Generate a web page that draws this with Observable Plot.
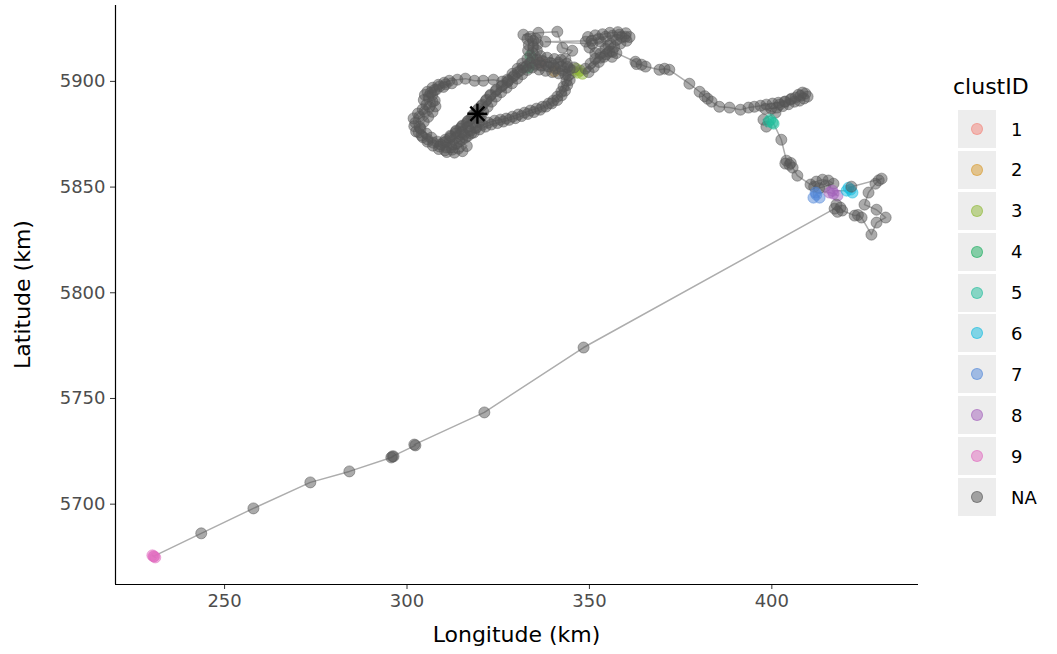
<!DOCTYPE html>
<html>
<head>
<meta charset="utf-8">
<script src="https://cdn.jsdelivr.net/npm/d3@7"></script>
<script src="https://cdn.jsdelivr.net/npm/@observablehq/plot@0.6"></script>
<style>
  html, body { margin: 0; padding: 0; background: #fff; }
  #wrap { position: relative; width: 1057px; height: 654px; font-family: "DejaVu Sans", sans-serif; }
  #legend { position: absolute; left: 953px; top: 72px; }
  #legend .title { font-size: 22px; color: #000; height: 38px; line-height: 30px; }
  #legend .item { display: flex; align-items: center; height: 38px; margin-bottom: 2.9px; margin-left: 5px; }
  #legend .key { width: 38px; height: 38px; background: #EDEDED; display: flex; align-items: center; justify-content: center; }
  #legend .dot { width: 10px; height: 10px; border-radius: 50%; border: 1px solid; }
  #legend .lab { margin-left: 15px; font-size: 18px; color: #000; }
</style>
</head>
<body>
<div id="wrap">
  <div id="chart"></div>
  <div id="legend"></div>
</div>
<script>
// ---- data: GPS fixes [longitude km, latitude km, clustID] in track order ----
const hiddenFixes = [[340.4,5904.8,"2"],[336.6,5908.8,"1"],[333.3,5906.5,"4"],[333.8,5912.2,"4"]];

const diagonal3 = [
  [331.8,5906.6],[330.4,5904.4],[329.0,5902.0],[327.5,5899.6],[325.9,5897.5],[324.3,5895.4],
  [322.8,5893.2],[321.6,5890.8],[320.4,5888.4],[319.2,5886.2],[318.0,5883.6],[316.6,5881.0],
  [315.0,5878.6],[313.4,5876.2],[312.0,5873.8],[310.6,5871.4],[312.6,5870.2],[314.4,5871.6],
  [316.0,5873.4],[317.6,5875.4],[318.8,5878.0],[319.8,5880.6],[320.2,5883.0]
];
const westLoop1 = [
  [319.3,5884.7],[317.6,5882.4],[316.3,5880.0],[314.6,5877.6],[313.3,5875.3],[311.6,5872.9],
  [310.0,5871.0],[308.3,5871.5],[306.7,5873.4],[305.3,5875.3],[303.7,5877.6],[302.3,5880.5],
  [303.4,5883.3],[304.8,5885.7],[306.1,5888.0],[307.0,5890.4],[305.9,5892.8],[305.6,5895.1],
  [307.0,5897.0],[308.6,5898.4],[310.2,5899.4],[311.6,5900.3],[313.8,5900.8],[316.0,5901.3],
  [318.5,5900.3],[320.9,5900.3],[323.7,5900.8],[326.1,5899.9],[327.5,5900.8],[328.9,5903.6],
  [330.3,5906.0],[331.6,5908.4],[333.0,5910.7],[334.4,5913.6],[334.6,5916.4],[334.6,5919.2],
  [333.8,5921.1],[331.9,5922.1],[336.0,5923.0],[341.2,5923.5],[342.6,5915.9],[345.3,5914.5],
  [343.4,5910.7],[341.5,5908.8],[339.3,5908.8],[337.1,5909.8],[335.5,5910.3],[333.8,5908.8],
  [332.7,5907.0],[331.1,5905.1],[329.4,5902.7],[327.8,5900.3],[326.1,5898.0],[324.5,5896.1],
  [322.9,5893.7],[321.8,5891.4],[320.7,5889.0],[319.6,5887.1],[318.2,5884.3],[316.8,5881.4],
  [315.2,5879.1],[313.5,5876.7],[311.9,5874.3],[310.5,5872.4],[309.2,5870.1],[310.8,5868.7],
  [312.4,5867.7],[314.1,5868.2]
];
const eastArm1 = [
  [315.7,5874.8],[317.4,5876.7],[319.0,5878.1],[320.7,5879.5],[322.3,5880.5],[324.0,5881.4],
  [325.6,5881.9],[327.2,5882.4],[328.9,5883.3],[330.5,5884.3],[332.2,5885.2],[333.8,5886.2],
  [335.5,5887.1],[337.1,5888.0],[338.8,5889.5],[340.1,5890.9],[341.2,5892.8],[342.3,5895.1],
  [342.9,5897.5],[343.7,5900.3],[344.2,5902.7],[342.6,5905.1],[340.7,5906.0],[338.8,5907.0],
  [336.8,5907.4],[335.2,5907.9],[345.3,5905.1]
];
const cluster3Fixes = [[346.7,5904.1,"3"],[347.5,5905.1,"3"],[346.4,5906.0,"3"],[348.1,5903.6,"3"]];
const ridge1 = [
  [348.9,5906.0],[350.3,5908.4],[351.6,5910.7],[353.0,5913.1],[354.4,5915.5],[355.8,5917.8],
  [357.4,5919.7],[358.8,5921.1],[359.9,5921.1],[358.2,5922.1],[356.3,5921.6],[354.4,5921.1],
  [352.5,5920.2],[350.6,5919.2],[337.9,5918.8],[350.8,5917.8],[353.0,5918.8],[355.2,5916.9],
  [356.3,5914.0]
];
const eastArm2 = [
  [344.6,5900.6],[343.9,5898.2],[343.3,5895.6],[342.4,5893.4],[341.2,5891.2],[339.7,5889.6],
  [338.1,5888.1],[336.5,5886.6],[334.8,5885.5],[333.1,5884.6],[331.4,5883.6],[329.7,5882.6],
  [328.0,5881.8],[326.4,5881.0],[324.8,5880.3],[323.1,5879.6],[321.5,5878.6],[319.9,5877.3],
  [318.3,5875.8],[316.7,5874.2],[315.1,5872.4],[313.6,5870.6],[312.1,5868.9],[310.4,5867.4]
];
const westLoop2 = [
  [308.7,5868.0],[307.1,5869.6],[305.6,5871.5],[304.3,5873.6],[303.2,5875.9],[303.5,5878.4],
  [304.6,5880.8],[305.8,5883.2],[307.0,5885.6],[307.8,5888.2],[307.6,5890.9],[306.9,5893.5],
  [307.5,5895.9],[308.9,5897.6],[310.6,5898.6],[312.3,5899.1],[310.0,5897.4],[308.0,5896.1],
  [306.5,5894.6],[304.9,5893.6],[304.6,5891.2],[305.3,5889.0],[304.3,5886.8],[303.0,5884.8],
  [301.8,5882.5],[302.0,5878.8],[302.5,5876.3],[304.0,5874.4],[305.6,5872.6],[307.2,5871.0],
  [308.9,5869.2],[310.9,5866.6],[313.0,5866.3],[315.2,5867.0],[316.4,5869.4]
];
const diagonal2 = [
  [313.6,5873.6],[315.1,5876.0],[316.7,5878.4],[318.2,5880.8],[319.7,5883.0],[320.9,5885.6],
  [322.1,5888.0],[323.2,5890.4],[324.4,5892.8],[325.8,5894.9],[327.3,5897.0],[328.8,5899.1],
  [330.2,5901.3],[331.6,5903.4],[333.0,5905.4],[334.4,5906.6]
];
const central2 = [
  [336.2,5905.6],[338.0,5905.0],[339.8,5904.4],[341.6,5903.8],[343.4,5903.2],[344.6,5905.8],
  [343.8,5908.4],[342.2,5910.2],[340.4,5910.6],[338.4,5911.2],[336.6,5912.0],[335.6,5914.6],
  [335.8,5917.6],[335.3,5920.2],[333.0,5920.0],[333.4,5917.2],[333.2,5914.6],[334.4,5911.0],
  [336.2,5909.0],[338.2,5908.0],[340.2,5907.4],[342.2,5907.0],[344.0,5906.8],[345.8,5906.6]
];
const ridge2 = [
  [349.8,5904.4],[351.2,5906.8],[352.6,5909.2],[354.0,5911.6],[355.4,5914.0],[356.8,5916.2],
  [358.5,5917.9],[360.2,5919.2],[361.0,5921.0],[360.0,5922.8],[357.8,5923.3],[355.6,5923.0],
  [353.6,5922.3],[351.6,5921.8],[349.6,5921.0],[349.0,5918.8],[350.0,5916.0],[351.6,5913.4],
  [353.0,5911.2],[354.6,5912.8],[356.2,5911.6],[357.4,5913.4]
];
const eastward = [
  [362.6,5909.3],[362.9,5908.2],[364.3,5907.9],[365.4,5907.0],[369.2,5905.5],[370.6,5906.0],
  [371.9,5905.5],[377.4,5898.9],[380.2,5895.1],[381.6,5893.0],[382.4,5891.8],[383.5,5890.4],
  [385.6,5888.0],[388.4,5887.6],[391.4,5886.6],[393.6,5887.6],[395.2,5888.0],[396.9,5888.5],
  [398.5,5889.0],[400.2,5889.5],[401.8,5889.9],[403.5,5890.4],[405.1,5891.4],[406.5,5892.3],
  [407.9,5893.2],[409.2,5894.2],[409.8,5892.8],[408.4,5894.7],[407.3,5893.7],[408.8,5891.9],
  [407.6,5890.9],[406.2,5890.4],[405.4,5891.8],[404.6,5889.2],[403.7,5890.4],[403.0,5888.3],
  [402.1,5889.0],[401.4,5887.6],[399.8,5887.2],[398.2,5887.0],[401.0,5885.2],[397.7,5881.9],
  [398.5,5878.6]
];
const cluster5Fixes = [[399.1,5881.0,"5"],[400.2,5880.5,"5"],[399.6,5881.9,"5"],[400.5,5880.0,"5"]];
const southward = [
  [402.6,5872.4],[404.0,5862.5],[404.8,5860.6],[403.7,5861.1],[405.2,5861.4],[405.7,5859.2],
  [407.0,5855.4],[410.6,5851.2],[412.2,5852.6],[413.9,5853.5],[415.5,5853.1],[416.9,5851.6],
  [414.6,5850.4],[413.0,5849.5],[411.6,5850.2]
];
const cluster7Fixes = [[411.4,5845.0,"7"],[412.2,5846.4,"7"],[413.1,5845.0,"7"],[412.0,5847.4,"7"]];
const cluster8Fixes = [[415.8,5847.4,"8"],[416.9,5846.9,"8"],[418.0,5846.0,"8"],[416.6,5848.3,"8"]];
const cluster6Fixes = [[420.5,5848.3,"6"],[421.6,5848.8,"6"],[422.1,5847.4,"6"],[421.0,5849.7,"6"]];
const eastLoop = [
  [421.8,5850.2],[430.1,5854.0],[429.3,5853.2],[428.4,5851.6],[426.5,5847.4],[425.4,5841.7],
  [428.7,5839.3],[431.2,5835.6],[428.7,5833.2],[427.3,5827.5],[424.6,5835.6],[423.6,5836.8],
  [422.7,5836.5],[419.3,5838.9],[418.8,5840.3],[417.7,5841.7],[418.0,5838.3],[417.2,5839.8]
];
const flight = [
  [348.4,5774.1],[321.2,5743.4],[302.0,5728.2],[302.3,5727.8],[296.0,5722.6],[296.3,5722.6],
  [295.7,5722.1],[284.2,5715.5],[273.5,5710.3],[257.9,5698.0],[243.6,5686.2]
];
const cluster9Fixes = [[230.5,5675.3,"9"],[231.0,5674.8,"9"],[230.2,5675.8,"9"],[230.7,5675.3,"9"]];

const startPoint = [[319.3,5884.7]];

const clusterLevels = ["1", "2", "3", "4", "5", "6", "7", "8", "9", "NA"];
const clusterColors = ["#F3837A", "#D89A2B", "#8EB834", "#1BAE5F", "#20BE9C", "#12BCE0", "#5288DA", "#A462BC", "#E26BBF", "#555555"];

const xTicks = [250, 300, 350, 400];
const yTicks = [5700, 5750, 5800, 5850, 5900];
const xDomain = [220.1, 440.2];
const yDomain = [5662.0, 5935.9];

// ---- build ----
const segments = [hiddenFixes, diagonal3, westLoop1, eastArm1, cluster3Fixes, ridge1, eastArm2, westLoop2,
  diagonal2, central2, ridge2, eastward, cluster5Fixes, southward, cluster7Fixes, cluster8Fixes,
  cluster6Fixes, eastLoop, flight, cluster9Fixes];
const track = segments.flat().map(([x, y, c]) => ({x, y, clust: c ?? "NA"}));
const start = startPoint.map(([x, y]) => ({x, y}));

const plot = Plot.plot({
  width: 1057,
  height: 654,
  marginLeft: 115,
  marginRight: 139,
  marginTop: 5,
  marginBottom: 70,
  style: {fontFamily: "DejaVu Sans, sans-serif", background: "#fff"},
  x: {domain: xDomain},
  y: {domain: yDomain},
  color: {domain: clusterLevels, range: clusterColors},
  marks: [
    Plot.axisX({ticks: xTicks, tickFormat: d => String(d), tickSize: 5, tickPadding: 5, fontSize: 18,
      color: "#4D4D4D", stroke: "#333", label: null}),
    Plot.axisY({ticks: yTicks, tickFormat: d => String(d), tickSize: 5, tickPadding: 5, fontSize: 18,
      color: "#4D4D4D", stroke: "#333", label: null}),
    Plot.ruleX([xDomain[0]], {stroke: "#000", strokeWidth: 1.2}),
    Plot.ruleY([yDomain[0]], {stroke: "#000", strokeWidth: 1.2}),
    Plot.line(track, {x: "x", y: "y", stroke: "#ADADAD", strokeWidth: 1.5}),
    Plot.dot(track, {x: "x", y: "y", r: 5.5, fill: "clust", stroke: "clust", fillOpacity: 0.5, strokeOpacity: 0.5, strokeWidth: 1}),
    Plot.dot(start, {x: "x", y: "y", symbol: "plus", r: 6.5, stroke: "#000", strokeWidth: 2.4}),
    Plot.dot(start, {x: "x", y: "y", symbol: "times", r: 6.5, stroke: "#000", strokeWidth: 2.4})
  ]
});

// axis titles
const svgNS = "http://www.w3.org/2000/svg";
function addText(txt, x, y, rot) {
  const t = document.createElementNS(svgNS, "text");
  t.textContent = txt;
  t.setAttribute("text-anchor", "middle");
  t.setAttribute("dominant-baseline", "central");
  t.setAttribute("font-size", "22");
  t.setAttribute("fill", "#000");
  t.setAttribute("font-family", "DejaVu Sans, sans-serif");
  if (rot) t.setAttribute("transform", `translate(${x},${y}) rotate(${rot})`);
  else { t.setAttribute("x", x); t.setAttribute("y", y); }
  plot.appendChild(t);
}
const fx0 = 115, fx1 = 1057 - 139, fy0 = 5, fy1 = 654 - 70;
addText("Longitude (km)", (fx0 + fx1) / 2, 634, 0);
addText("Latitude (km)", 22, (fy0 + fy1) / 2, -90);

document.getElementById("chart").appendChild(plot);

// legend
const leg = document.getElementById("legend");
const title = document.createElement("div");
title.className = "title";
title.textContent = "clustID";
leg.appendChild(title);
clusterLevels.forEach((lev, i) => {
  const item = document.createElement("div");
  item.className = "item";
  const key = document.createElement("div");
  key.className = "key";
  const dot = document.createElement("div");
  dot.className = "dot";
  const c = d3.color(clusterColors[i]);
  c.opacity = 0.5;
  dot.style.background = c.formatRgb();
  dot.style.borderColor = c.formatRgb();
  key.appendChild(dot);
  const lab = document.createElement("div");
  lab.className = "lab";
  lab.textContent = lev;
  item.appendChild(key);
  item.appendChild(lab);
  leg.appendChild(item);
});
</script>
</body>
</html>
